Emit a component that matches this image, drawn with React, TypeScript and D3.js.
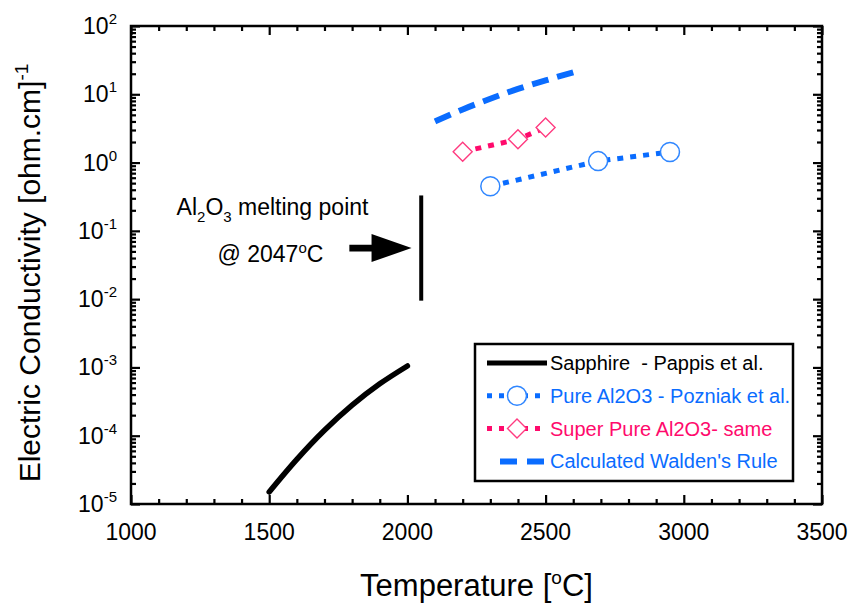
import { useRef, useEffect } from "react";
import * as d3 from "d3";

// Sapphire - Pappis et al.
const sapphireT = [1500, 1600, 1700, 1800, 1900, 2000];
const sapphireS = [1.5e-5, 4.5e-5, 1.2e-4, 2.8e-4, 5.75e-4, 1.05e-3];
// Pure Al2O3 - Pozniak et al.
const pureT = [2300, 2690, 2950];
const pureS = [0.45, 1.05, 1.43];
// Super Pure Al2O3
const superT = [2200, 2400, 2500];
const superS = [1.44, 2.19, 3.27];
// Calculated Walden's rule
const waldenT = [2100, 2200, 2300, 2400, 2500, 2600];
const waldenS = [4.0, 6.0, 8.6, 12, 16, 21];

const xTicks = [1000, 1500, 2000, 2500, 3000, 3500];
const yExponents = [-5, -4, -3, -2, -1, 0, 1, 2];

const legendLabels = [
  "Sapphire  - Pappis et al.",
  "Pure Al2O3 - Pozniak et al.",
  "Super Pure Al2O3- same",
  "Calculated Walden's Rule",
];

const BLUE = "#0a6cff";
const PINK = "#ff0a6c";
const FONT = "'Liberation Sans', Arial, sans-serif";

export default function App() {
  const ref = useRef<SVGSVGElement>(null);

  useEffect(() => {
    document.body.style.margin = "0";
    const svg = d3.select(ref.current);
    svg.selectAll("*").remove();

    const width = 850;
    const height = 605;
    const left = 131, right = 822, top = 26, bottom = 504;

    const x = d3.scaleLinear([1000, 3500], [left, right]);
    const y = d3.scaleLog([1e-5, 1e2], [bottom, top]);

    svg.attr("width", width).attr("height", height).style("font-family", FONT);
    svg.append("rect").attr("width", width).attr("height", height).attr("fill", "white");

    // ticks
    const xMinor = d3.range(1000, 3501, 100).filter((v) => v % 500 !== 0);
    const yMinor: number[] = [];
    for (let e = -5; e < 2; e++) for (let k = 2; k <= 9; k++) yMinor.push(k * Math.pow(10, e));
    const yMajor = yExponents.map((e) => Math.pow(10, e));

    const styleAxis = (g: any) => {
      g.select(".domain").remove();
      g.selectAll(".tick line").attr("stroke", "black").attr("stroke-width", 2.2);
      g.selectAll(".tick text").remove();
    };
    const addAxis = (axis: any, tr: string) =>
      svg.append("g").attr("transform", tr).call(axis).call(styleAxis);

    addAxis(d3.axisBottom(x).tickValues(xMinor).tickSize(-5), `translate(0,${bottom})`);
    addAxis(d3.axisBottom(x).tickValues(xTicks).tickSize(-9), `translate(0,${bottom})`);
    addAxis(d3.axisTop(x).tickValues(xMinor).tickSize(-5), `translate(0,${top})`);
    addAxis(d3.axisTop(x).tickValues(xTicks).tickSize(-9), `translate(0,${top})`);
    addAxis(d3.axisLeft(y).tickValues(yMinor).tickSize(-5), `translate(${left},0)`);
    addAxis(d3.axisLeft(y).tickValues(yMajor).tickSize(-9), `translate(${left},0)`);
    addAxis(d3.axisRight(y).tickValues(yMinor).tickSize(-5), `translate(${right},0)`);
    addAxis(d3.axisRight(y).tickValues(yMajor).tickSize(-9), `translate(${right},0)`);

    svg.append("rect")
      .attr("x", left).attr("y", top)
      .attr("width", right - left).attr("height", bottom - top)
      .attr("fill", "none").attr("stroke", "black").attr("stroke-width", 2.5);

    // tick labels
    svg.append("g").selectAll("text").data(xTicks).join("text")
      .attr("x", (d) => x(d)).attr("y", bottom + 36)
      .attr("text-anchor", "middle").attr("font-size", 23)
      .text((d) => d);

    const yl = svg.append("g").selectAll("text").data(yExponents).join("text")
      .attr("x", left - 14).attr("y", (e) => y(Math.pow(10, e)) + 8)
      .attr("text-anchor", "end").attr("font-size", 23);
    yl.append("tspan").text("10");
    yl.append("tspan").attr("dy", -10).attr("font-size", 15).text((e) => e);

    // axis titles
    const xt = svg.append("text").attr("x", (left + right) / 2).attr("y", 596)
      .attr("text-anchor", "middle").attr("font-size", 31);
    xt.append("tspan").text("Temperature [");
    xt.append("tspan").attr("dy", -12).attr("font-size", 19).text("o");
    xt.append("tspan").attr("dy", 12).text("C]");

    const ytx = svg.append("text")
      .attr("transform", `translate(40,${(top + bottom) / 2 + 8}) rotate(-90)`)
      .attr("text-anchor", "middle").attr("font-size", 30);
    ytx.append("tspan").text("Electric Conductivity [ohm.cm]");
    ytx.append("tspan").attr("dy", -12).attr("font-size", 19).text("-1");

    const pairs = (T: number[], S: number[]) => T.map((t, i) => [t, S[i]] as [number, number]);
    const line = (curve: any) =>
      d3.line<[number, number]>().x((d) => x(d[0])).y((d) => y(d[1])).curve(curve);

    // Walden
    svg.append("path")
      .attr("d", line(d3.curveMonotoneX)(pairs(waldenT, waldenS)))
      .attr("fill", "none").attr("stroke", BLUE).attr("stroke-width", 6)
      .attr("stroke-dasharray", "17 9");

    // Sapphire
    svg.append("path")
      .attr("d", line(d3.curveCatmullRom)(pairs(sapphireT, sapphireS)))
      .attr("fill", "none").attr("stroke", "black").attr("stroke-width", 5.5)
      .attr("stroke-linecap", "round");

    // Pure
    svg.append("path")
      .attr("d", line(d3.curveLinear)(pairs(pureT, pureS)))
      .attr("fill", "none").attr("stroke", BLUE).attr("stroke-width", 5)
      .attr("stroke-dasharray", "6 7");
    svg.append("g").selectAll("circle").data(pairs(pureT, pureS)).join("circle")
      .attr("cx", (d) => x(d[0])).attr("cy", (d) => y(d[1])).attr("r", 9.5)
      .attr("fill", "white").attr("stroke", "#2f86ff").attr("stroke-width", 1.5);

    // Super pure
    svg.append("path")
      .attr("d", line(d3.curveLinear)(pairs(superT, superS)))
      .attr("fill", "none").attr("stroke", PINK).attr("stroke-width", 5)
      .attr("stroke-dasharray", "6 7");
    const diamond = (cx: number, cy: number, r: number) => {
      const p = d3.path();
      p.moveTo(cx, cy - r); p.lineTo(cx + r, cy); p.lineTo(cx, cy + r); p.lineTo(cx - r, cy); p.closePath();
      return p.toString();
    };
    svg.append("g").selectAll("path").data(pairs(superT, superS)).join("path")
      .attr("d", (d) => diamond(x(d[0]), y(d[1]), 9.5))
      .attr("fill", "white").attr("stroke", "#ff3b80").attr("stroke-width", 1.4);

    // melting point annotation
    const meltT = 2050;
    svg.append("line")
      .attr("x1", x(meltT)).attr("x2", x(meltT))
      .attr("y1", y(0.33)).attr("y2", y(0.0095))
      .attr("stroke", "black").attr("stroke-width", 4);

    const ax0 = x(1790), ax1 = x(2015), ay = y(0.056);
    const ap = d3.path();
    ap.moveTo(ax0, ay - 3.4); ap.lineTo(ax1 - 40, ay - 3.4); ap.lineTo(ax1 - 40, ay - 14);
    ap.lineTo(ax1, ay); ap.lineTo(ax1 - 40, ay + 14); ap.lineTo(ax1 - 40, ay + 3.4);
    ap.lineTo(ax0, ay + 3.4); ap.closePath();
    svg.append("path").attr("d", ap.toString()).attr("fill", "black");

    const t1 = svg.append("text").attr("x", x(1165)).attr("y", y(0.17)).attr("font-size", 23);
    t1.append("tspan").text("Al");
    t1.append("tspan").attr("dy", 7).attr("font-size", 15).text("2");
    t1.append("tspan").attr("dy", -7).text("O");
    t1.append("tspan").attr("dy", 7).attr("font-size", 15).text("3");
    t1.append("tspan").attr("dy", -7).text(" melting point");

    const t2 = svg.append("text").attr("x", x(1313)).attr("y", y(0.0345)).attr("font-size", 23);
    t2.append("tspan").text("@ 2047");
    t2.append("tspan").attr("dy", -9).attr("font-size", 15).text("o");
    t2.append("tspan").attr("dy", 9).text("C");

    // legend
    const lg = svg.append("g");
    lg.append("rect").attr("x", 475).attr("y", 344).attr("width", 318).attr("height", 137)
      .attr("fill", "white").attr("stroke", "black").attr("stroke-width", 2.5);
    const rowY = (i: number) => 363 + i * 32.8;
    const lx0 = 487, lx1 = 547, lxm = 517;
    lg.append("line").attr("x1", lx0).attr("x2", lx1).attr("y1", rowY(0)).attr("y2", rowY(0))
      .attr("stroke", "black").attr("stroke-width", 5);
    lg.append("line").attr("x1", lx0).attr("x2", lx1).attr("y1", rowY(1)).attr("y2", rowY(1))
      .attr("stroke", BLUE).attr("stroke-width", 5).attr("stroke-dasharray", "5 7");
    lg.append("circle").attr("cx", lxm).attr("cy", rowY(1)).attr("r", 9.5)
      .attr("fill", "white").attr("stroke", "#2f86ff").attr("stroke-width", 1.5);
    lg.append("line").attr("x1", lx0).attr("x2", lx1).attr("y1", rowY(2)).attr("y2", rowY(2))
      .attr("stroke", PINK).attr("stroke-width", 5).attr("stroke-dasharray", "5 7");
    lg.append("path").attr("d", diamond(lxm, rowY(2), 9.5))
      .attr("fill", "white").attr("stroke", "#ff3b80").attr("stroke-width", 1.4);
    lg.append("line").attr("x1", 500).attr("x2", 544).attr("y1", rowY(3)).attr("y2", rowY(3))
      .attr("stroke", BLUE).attr("stroke-width", 6).attr("stroke-dasharray", "17 10");
    lg.selectAll("text.lbl").data(legendLabels).join("text")
      .attr("x", 550).attr("y", (_d, i) => rowY(i) + 7)
      .attr("font-size", 20).style("white-space", "pre")
      .attr("fill", (_d, i) => (i === 0 ? "black" : i === 2 ? PINK : BLUE))
      .text((d) => d);
  }, []);

  return <svg ref={ref} />;
}
